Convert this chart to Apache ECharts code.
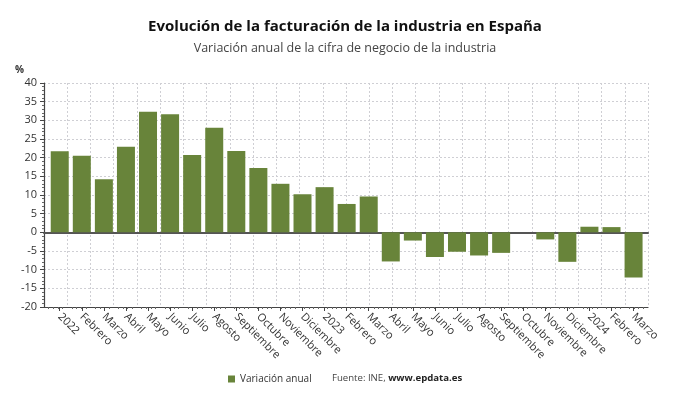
<!DOCTYPE html>
<html><head><meta charset="utf-8">
<script src="https://cdn.jsdelivr.net/npm/echarts@6/dist/echarts.min.js"></script>
<style>html,body{margin:0;padding:0;background:#fff}#c{width:690px;height:405px}</style>
</head><body><div id="c"></div>
<script>
const categories = ['2022','Febrero','Marzo','Abril','Mayo','Junio','Julio','Agosto','Septiembre','Octubre','Noviembre','Diciembre','2023','Febrero','Marzo','Abril','Mayo','Junio','Julio','Agosto','Septiembre','Octubre','Noviembre','Diciembre','2024','Febrero','Marzo'];
const values = [21.7,20.5,14.2,22.9,32.3,31.6,20.7,28.0,21.8,17.2,13.0,10.2,12.1,7.6,9.6,-7.8,-2.2,-6.6,-5.2,-6.2,-5.5,0,-1.9,-7.9,1.5,1.4,-12.1];
const seriesName = 'Variación anual';
const yMin = -20, yMax = 40, yStep = 5;
const titleText = 'Evolución de la facturación de la industria en España';
const subtitleText = 'Variación anual de la cifra de negocio de la industria';
const sourceText = 'Fuente: INE, ';
const sourceLink = 'www.epdata.es';

const FONT = '"Open Sans", "Noto Sans", sans-serif';
const GREEN = '#68843a';
const GRIDC = '#cfcfd4';

const chart = echarts.init(document.getElementById('c'), null, {renderer: 'canvas'});
chart.setOption({
  animation: false,
  textStyle: {fontFamily: FONT},
  title: [
    {text: titleText, subtext: subtitleText, left: 'center', top: 14, itemGap: 8,
     textStyle: {fontFamily: FONT, fontSize: 15, fontWeight: 'bold', color: '#111'},
     subtextStyle: {fontFamily: FONT, fontSize: 12.5, color: '#444'}},
    {text: sourceText + '{b|' + sourceLink + '}', left: 332, top: 373, padding: 0,
     textStyle: {fontFamily: FONT, fontSize: 9.6, fontWeight: 'normal', color: '#444',
       rich: {b: {fontFamily: FONT, fontSize: 9.6, fontWeight: 'bold', color: '#222'}}}}
  ],
  legend: {data: [seriesName], left: 228, top: 374, padding: 0, icon: 'rect', itemWidth: 7, itemHeight: 7, itemGap: 4,
    textStyle: {fontFamily: FONT, fontSize: 10, color: '#333'}},
  graphic: [{type: 'text', left: 15, top: 65, style: {text: '%', fontFamily: FONT, fontSize: 10, fontWeight: 'bold', fill: '#333'}}],
  grid: [
    {left: 44, right: 42, top: 83, bottom: 98},
    {left: 48.7, right: 45.4, top: 83, bottom: 98}
  ],
  xAxis: [
    {gridIndex: 0, type: 'value', min: 0, max: 26, interval: 1, position: 'bottom',
     axisLine: {show: true, onZero: false, lineStyle: {color: '#444', width: 1.2}},
     axisTick: {show: false}, axisLabel: {show: false},
     minorTick: {show: true, splitNumber: 5, length: 2, lineStyle: {color: '#666'}},
     splitLine: {show: true, lineStyle: {color: GRIDC, type: [2, 2], width: 1}}},
    {gridIndex: 0, type: 'value', min: 0, max: 26, position: 'bottom',
     axisLine: {show: true, onZero: true, lineStyle: {color: '#555', width: 2}},
     axisTick: {show: false}, axisLabel: {show: false}, splitLine: {show: false}},
    {gridIndex: 1, type: 'category', data: categories, position: 'bottom',
     axisLine: {show: false, onZero: false},
     axisTick: {show: true, alignWithLabel: true, length: 4, lineStyle: {color: '#444'}},
     axisLabel: {rotate: -45, interval: 0, fontFamily: FONT, fontSize: 11, color: '#333', margin: 8},
     splitLine: {show: false}}
  ],
  yAxis: [
    {gridIndex: 0, type: 'value', min: yMin, max: yMax, interval: yStep,
     axisLine: {show: true, lineStyle: {color: '#444', width: 1.2}},
     axisTick: {show: true, length: 4, lineStyle: {color: '#444'}},
     minorTick: {show: true, splitNumber: 5, length: 2, lineStyle: {color: '#666'}},
     axisLabel: {fontFamily: FONT, fontSize: 11, color: '#333', margin: 7},
     splitLine: {show: true, lineStyle: {color: GRIDC, type: [2, 2], width: 1}}},
    {gridIndex: 1, type: 'value', min: yMin, max: yMax, interval: yStep, show: false}
  ],
  series: [{
    name: seriesName, type: 'bar', xAxisIndex: 2, yAxisIndex: 1, data: values,
    barWidth: 18, itemStyle: {color: GREEN}, z: 1
  }]
});
</script></body></html>
